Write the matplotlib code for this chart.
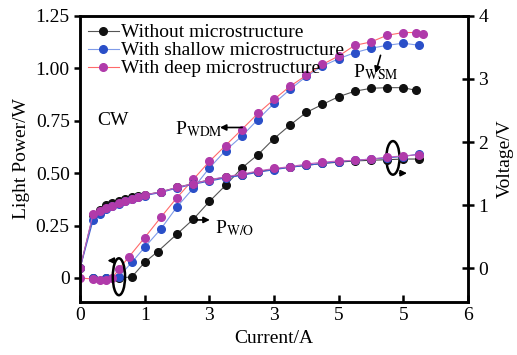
import matplotlib
matplotlib.use('Agg')
import matplotlib.pyplot as plt
from matplotlib.patches import Ellipse

plt.rcParams['font.family'] = ['Liberation Serif', 'DejaVu Serif']
plt.rcParams['mathtext.fontset'] = 'stix'

# light power, left axis
I_wo = [0.2, 0.4, 0.6, 0.8, 1.0, 1.2, 1.5, 1.75, 2.0, 2.25, 2.5, 2.75, 3.0,
        3.25, 3.5, 3.75, 4.0, 4.25, 4.5, 4.75, 5.0, 5.2]
P_wo = [0, 0, 0, 0.005, 0.075, 0.126, 0.21, 0.28, 0.365, 0.442, 0.524, 0.588,
        0.665, 0.73, 0.79, 0.828, 0.865, 0.891, 0.905, 0.908, 0.908, 0.895]

I_ws = [0.2, 0.4, 0.6, 0.8, 1.0, 1.25, 1.5, 1.75, 2.0, 2.25, 2.5, 2.75, 3.0,
        3.25, 3.5, 3.75, 4.0, 4.25, 4.5, 4.75, 5.0, 5.25]
P_ws = [0, 0, 0.006, 0.075, 0.147, 0.234, 0.34, 0.428, 0.525, 0.608, 0.676,
        0.756, 0.833, 0.9, 0.962, 1.011, 1.046, 1.075, 1.096, 1.11, 1.12, 1.11]

I_wd = [0, 0.2, 0.3, 0.4, 0.5, 0.6, 0.75, 1.0, 1.25, 1.5, 1.75, 2.0, 2.25, 2.5,
        2.75, 3.0, 3.25, 3.5, 3.75, 4.0, 4.25, 4.5, 4.75, 5.0, 5.2, 5.3]
P_wd = [0.0, -0.005, -0.01, -0.008, 0.0, 0.043, 0.099, 0.193, 0.29, 0.384, 0.47,
        0.556, 0.632, 0.708, 0.785, 0.852, 0.915, 0.967, 1.019, 1.059, 1.11,
        1.126, 1.158, 1.171, 1.171, 1.163]

# voltage, right axis
I_v = [0, 0.2, 0.3, 0.4, 0.5, 0.6, 0.7, 0.8, 0.9, 1.0, 1.25, 1.5, 1.75, 2.0,
       2.25, 2.5, 2.75, 3.0, 3.25, 3.5, 3.75, 4.0, 4.25, 4.5, 4.75, 5.0, 5.25]
V_wo = [0, 0.84, 0.92, 1.0, 1.03, 1.06, 1.09, 1.12, 1.14, 1.16, 1.21, 1.28,
        1.34, 1.40, 1.44, 1.48, 1.53, 1.57, 1.60, 1.63, 1.66, 1.68, 1.70, 1.71,
        1.72, 1.73, 1.73]
V_ws = [0, 0.76, 0.86, 0.93, 0.98, 1.02, 1.06, 1.09, 1.12, 1.15, 1.2, 1.27,
        1.33, 1.38, 1.43, 1.47, 1.52, 1.56, 1.60, 1.63, 1.66, 1.69, 1.71, 1.73,
        1.75, 1.77, 1.81]
V_wd = [0, 0.86, 0.91, 0.95, 0.98, 1.03, 1.06, 1.1, 1.13, 1.16, 1.21, 1.28,
        1.34, 1.40, 1.45, 1.49, 1.54, 1.58, 1.61, 1.65, 1.68, 1.70, 1.71, 1.73,
        1.76, 1.78, 1.80]

x_ticks = [0, 1, 2, 3, 4, 5, 6]
x_tick_labels = ['0', '1', '3', '3', '5', '5', '6']
labels = ['Without microstructure', 'With shallow microstructure',
          'With deep microstructure']

fig = plt.figure(figsize=(5.17, 3.55), dpi=100)
ax = fig.add_axes([0.155, 0.149, 0.75, 0.806])
ax2 = ax.twinx()

ms = 5.5
styles = [('#111111', '#555555'), ('#2a4fc8', '#7f9be8'), ('#b03aaa', '#ff6a6a')]
vline_cols = ['#444444', '#4060d0', '#c060c0']

handles = []
for (ii, pp), (mc, lc), lab in zip([(I_wo, P_wo), (I_ws, P_ws), (I_wd, P_wd)],
                                   styles, labels):
    h, = ax.plot(ii, pp, '-o', color=lc, mfc=mc, mec=mc, ms=ms, lw=0.8,
                 label=lab)
    handles.append(h)

for vv, (mc, lc), vc in zip([V_wo, V_ws, V_wd], styles, vline_cols):
    ax2.plot(I_v, vv, '-o', color=vc, mfc=mc, mec=mc, ms=ms, lw=0.8)

ax.set_xlim(0, 6)
ax.set_ylim(-0.115, 1.25)
ax2.set_ylim(-0.54, 4.0)
ax.set_xticks(x_ticks)
ax.set_xticklabels(x_tick_labels)
ax.set_yticks([0, 0.25, 0.5, 0.75, 1.0, 1.25])
ax.set_yticklabels(['0', '0.25', '0.50', '0.75', '1.00', '1.25'])
ax2.set_yticks([0, 1, 2, 3, 4])

for a in (ax, ax2):
    for s in a.spines.values():
        s.set_linewidth(1.8)
ax.tick_params(axis='x', direction='in', width=1.8, length=5, labelsize=14)
ax.tick_params(axis='y', direction='out', width=1.8, length=4, labelsize=14)
ax2.tick_params(axis='y', direction='inout', width=1.8, length=8, labelsize=14)

ax.set_xlabel('Current/A', fontsize=14, labelpad=4)
ax.set_ylabel('Light Power/W', fontsize=14, labelpad=4)
ax2.set_ylabel('Voltage/V', fontsize=14, labelpad=6)

ax.legend(handles=handles, loc='upper left', frameon=False, fontsize=14,
          labelspacing=0.02, handlelength=1.6, handletextpad=0.1,
          borderaxespad=0.0, bbox_to_anchor=(0.0, 1.0))

ax.text(0.27, 0.75, 'CW', fontsize=14, va='center')
ax.annotate('', xy=(2.12, 0.718), xytext=(2.55, 0.718),
            arrowprops=dict(arrowstyle='-|>', color='k', lw=1.2,
                            mutation_scale=9))
ax.text(1.47, 0.71, r'P$_{\mathrm{WDM}}$', fontsize=14, va='center')
ax.annotate('', xy=(2.05, 0.277), xytext=(1.76, 0.277),
            arrowprops=dict(arrowstyle='-|>', color='k', lw=1.2,
                            mutation_scale=9))
ax.text(2.08, 0.24, r'P$_{\mathrm{W/O}}$', fontsize=14, va='center')
ax.annotate('', xy=(4.56, 0.965), xytext=(4.66, 1.075),
            arrowprops=dict(arrowstyle='-|>', color='k', lw=1.2,
                            mutation_scale=9))
ax.text(4.22, 0.98, r'P$_{\mathrm{WSM}}$', fontsize=14, va='center')

ax.add_patch(Ellipse((0.6, 0.006), 0.19, 0.176, fill=False, lw=1.8, ec='k',
                     zorder=5))
ax.annotate('', xy=(0.38, 0.083), xytext=(0.57, 0.083),
            arrowprops=dict(arrowstyle='-|>', color='k', lw=1.2,
                            mutation_scale=9))
ax.add_patch(Ellipse((4.84, 0.573), 0.205, 0.16, fill=False, lw=1.8, ec='k',
                     zorder=5))
ax.annotate('', xy=(5.1, 0.5), xytext=(4.9, 0.5),
            arrowprops=dict(arrowstyle='-|>', color='k', lw=1.2,
                            mutation_scale=9))

fig.savefig('out.png', dpi=100)
